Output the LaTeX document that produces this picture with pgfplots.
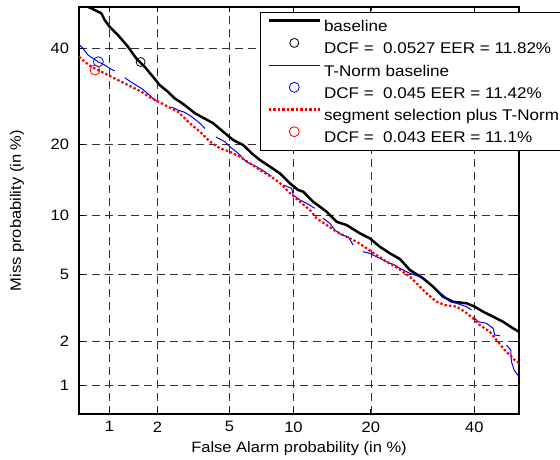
\documentclass[border=0pt]{standalone}
\usepackage{fontspec}
\setmainfont{Liberation Sans}[FakeStretch=1.1]
\usepackage{pgfplots}
\pgfplotsset{compat=1.18}
\pgfplotsset{
  lineleg/.style={legend image code/.code={\draw[##1] (0pt,5.3pt) -- (51pt,5.3pt); \path (0pt,0pt);}},
  markleg/.style={legend image code/.code={\draw[##1] plot coordinates {(25.5pt,5.3pt)}; \path (0pt,0pt) (51pt,0pt);}},
}
% All coordinates are normal deviates (probit) of the probabilities, as on a DET plot.
\begin{document}
\begin{tikzpicture}[font=\fontsize{15}{18}\selectfont]
\useasboundingbox (-79pt,-45pt) rectangle (481pt,414pt);
\begin{axis}[
  scale only axis, width=440pt, height=407pt,
  xmin=-2.5, xmax=0, ymin=-2.5, ymax=0,
  xtick={-2.3263,-2.0537,-1.6449,-1.2816,-0.8416,-0.2533},
  xticklabels={1,2,5,10,20,40},
  ytick={-2.3263,-2.0537,-1.6449,-1.2816,-0.8416,-0.2533},
  yticklabels={1,2,5,10,20,40},
  /pgf/number format/assume math mode=true,
  tick align=inside, major tick length=5pt,
  xtick pos=both, ytick pos=both,
  tick style={black, line width=0.8pt},
  axis line style={black, line width=1.3pt},
  grid=major,
  major grid style={black!80, line width=0.7pt, dash pattern=on 8pt off 5pt},
  xticklabel style={yshift=-4pt},
  yticklabel style={xshift=-6.5pt},
  xlabel={False Alarm probability (in \%)},
  ylabel={Miss probability (in \%)},
  xlabel style={at={(axis description cs:0.5,-0.0946)}, anchor=base},
  ylabel style={at={(axis description cs:-0.141,0.5)}, anchor=center},
  unbounded coords=jump,
  every axis plot/.append style={sharp plot},
  legend cell align=left,
  lineleg,
  legend style={at={(0.4114,0.9877)}, anchor=north west, draw=black, line width=1pt, fill=white,
    font=\fontsize{15.5}{18}\selectfont,
    inner xsep=7pt, inner ysep=2.4pt,
    nodes={text height=14.7pt, text depth=3.5pt, inner ysep=2pt, inner xsep=3pt}},
]
% baseline
\addplot[black, line width=2.5pt, line join=round] coordinates {
(-2.446,0.000) (-2.373,-0.0387) (-2.354,-0.0799) (-2.326,-0.1210) (-2.279,-0.1720)
(-2.222,-0.2439) (-2.175,-0.3151) (-2.127,-0.3667) (-2.080,-0.4281) (-2.042,-0.4791)
(-1.995,-0.5203) (-1.957,-0.5608) (-1.927,-0.5817) (-1.900,-0.6020) (-1.843,-0.6511)
(-1.813,-0.6695) (-1.737,-0.7144) (-1.681,-0.7660) (-1.624,-0.8170) (-1.567,-0.8477)
(-1.519,-0.8987) (-1.472,-0.9398) (-1.415,-0.9810) (-1.359,-1.0215) (-1.302,-1.0829)
(-1.255,-1.1241) (-1.226,-1.1345) (-1.170,-1.1959) (-1.093,-1.2574) (-1.037,-1.3188)
(-0.980,-1.3391) (-0.904,-1.3901) (-0.848,-1.4208) (-0.791,-1.4724) (-0.734,-1.5129)
(-0.677,-1.5479) (-0.620,-1.6155) (-0.545,-1.6665) (-0.488,-1.7181) (-0.431,-1.7795)
(-0.375,-1.8102) (-0.298,-1.8200) (-0.251,-1.8409) (-0.204,-1.8716) (-0.147,-1.9023)
(-0.091,-1.9330) (-0.034,-1.9736) (0.000,-1.9945)
};
\addlegendentry{baseline}
\addplot[black, only marks, mark=o, mark size=4.5pt, line width=0.8pt, markleg]
  coordinates {(-2.150,-0.3378)};
\addlegendentry{DCF = \ 0.0527 EER = 11.82\%}
% T-Norm baseline
\addplot[blue, line width=1pt] coordinates {
(-2.500,-0.2303) (-2.477,-0.2537) (-2.449,-0.2948) (-2.421,-0.3151) (-2.392,-0.3360)
(-2.354,-0.3563) (-2.326,-0.3765) (-2.297,-0.3931) (-2.27,nan)
(-2.241,-0.4343) (-2.193,-0.4687) (-2.146,-0.4994) (-2.118,-0.5240) (-2.080,-0.5608)
(-2.051,-0.5817) (-2.01,nan)
(-1.975,-0.6143) (-1.938,-0.6327) (-1.900,-0.6468) (-1.860,-0.6738) (-1.813,-0.7144)
(-1.785,-0.7463) (-1.75,nan)
(-1.722,-0.7985) (-1.671,-0.8274) (-1.643,-0.8581) (-1.595,-0.8987) (-1.548,-0.9521)
(-1.491,-0.9810) (-1.444,-1.0117) (-1.406,-1.0399) (-1.37,nan)
(-1.340,-1.0934) (-1.292,-1.1137) (-1.283,-1.1548) (-1.245,-1.1855) (-1.207,-1.2058)
(-1.160,-1.2365) (-1.13,nan)
(-1.113,-1.2979) (-1.075,-1.3286) (-1.046,-1.3698) (-1.008,-1.4005) (-0.971,-1.4109)
(-0.942,-1.4619) (-0.91,nan)
(-0.886,-1.5031) (-0.848,-1.5129) (-0.810,-1.5338) (-0.753,-1.5645) (-0.706,-1.5848)
(-0.677,-1.6050) (-0.620,-1.6357) (-0.564,-1.6566) (-0.535,-1.6769) (-0.50,nan)
(-0.460,-1.7488) (-0.431,-1.7690) (-0.393,-1.8102) (-0.355,-1.8200) (-0.298,-1.8409)
(-0.270,-1.8612) (-0.265,nan)
(-0.261,-1.9023) (-0.233,-1.9330) (-0.185,-1.9429) (-0.147,-1.9736) (-0.138,-2.0147)
(-0.109,-2.0190) (-0.09,nan)
(-0.071,-2.0762) (-0.047,-2.1069) (-0.043,-2.1787) (-0.028,-2.2297) (0.000,-2.2709)
};
\addlegendentry{T-Norm baseline}
\addplot[blue, only marks, mark=o, mark size=5pt, line width=0.8pt, markleg]
  coordinates {(-2.390,-0.3360)};
\addlegendentry{DCF = \ 0.045 EER = 11.42\%}
% segment selection plus T-Norm
\addplot[red, line width=2.2pt, dash pattern=on 2.4pt off 2.1pt] coordinates {
(-2.500,-0.3053) (-2.468,-0.3360) (-2.430,-0.3667) (-2.373,-0.3974) (-2.317,-0.4281)
(-2.260,-0.4589) (-2.203,-0.4896) (-2.146,-0.5203) (-2.089,-0.5608) (-2.042,-0.5854)
(-1.995,-0.6124) (-1.938,-0.6431) (-1.870,-0.7144) (-1.813,-0.7660) (-1.756,-0.8274)
(-1.699,-0.8679) (-1.643,-0.8888) (-1.586,-0.9195) (-1.529,-0.9601) (-1.472,-1.0012)
(-1.415,-1.0381) (-1.359,-1.0811) (-1.302,-1.1425) (-1.245,-1.1959) (-1.188,-1.2469)
(-1.150,-1.2979) (-1.093,-1.3391) (-1.037,-1.3802) (-0.980,-1.4109) (-0.923,-1.4416)
(-0.866,-1.4822) (-0.810,-1.5233) (-0.753,-1.5645) (-0.687,-1.6050) (-0.620,-1.6566)
(-0.582,-1.6972) (-0.526,-1.7586) (-0.469,-1.8102) (-0.422,-1.8305) (-0.355,-1.8409)
(-0.308,-1.8716) (-0.261,-1.9121) (-0.223,-1.9533) (-0.166,-1.9945) (-0.128,-2.0455)
(-0.081,-2.1069) (-0.043,-2.1480) (-0.015,-2.1788) (0.000,-2.1867)
};
\addlegendentry{segment selection plus T-Norm}
\addplot[red, only marks, mark=o, mark size=5pt, line width=0.8pt, markleg]
  coordinates {(-2.409,-0.3870)};
\addlegendentry{DCF = \ 0.043 EER = 11.1\%}
\end{axis}
\end{tikzpicture}
\end{document}
